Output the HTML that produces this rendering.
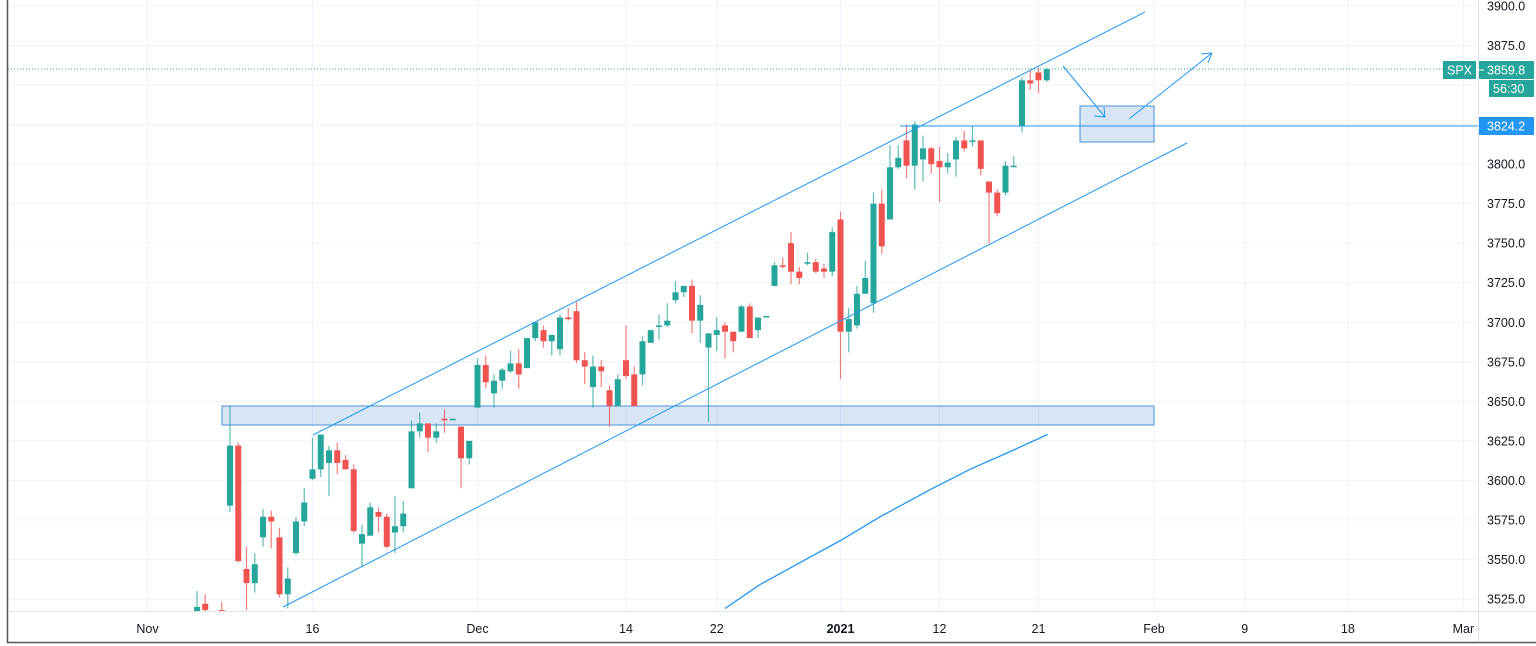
<!DOCTYPE html>
<html><head><meta charset="utf-8"><style>
html,body{margin:0;padding:0;background:#fff;}
svg{display:block;font-family:"Liberation Sans",sans-serif;}
</style></head><body>
<svg id="chart" width="1536" height="646" viewBox="0 0 1536 646" xmlns="http://www.w3.org/2000/svg">
<rect x="0" y="0" width="1536" height="646" fill="#ffffff"/>
<g id="grid"></g>
<g id="drawings-back"></g>
<g id="candles"></g>
<g id="drawings"></g>
<g id="axes"></g>
</svg>
<script>
const priceTicks=[3900,3875,3850,3825,3800,3775,3750,3725,3700,3675,3650,3625,3600,3575,3550,3525];
const hiddenTicks=[3850,3825];
const timeLabels=["Nov","16","Dec","14","22","2021","12","21","Feb","9","18","Mar"];
const timeIdx=[-6,14,34,52,63,78,90,102,116,127,139.5,153.5];
const opens=[3515,3522,3505,3518,3584,3622,3544,3535,3564,3577,3564,3528,3554,3574,3601,3607,3611,3619,3613,3607,3560,3565,3580,3577,3567,3571,3595,3631,3636,3627,3639,3638,3634,3614,
3646,3673,3655,3663,3669,3674,3671,3690,3695,3688,3683,3703,3707,3676,3659,3672,3657,3647,3676,3667,3667,3687,3697,3698,3714,3719,3723,3701,3684,3692,3698,3694,3694,3710,3695,3704,
3723,3736,3750,3732,3737,3738,3734,3732,3765,3694,3698,3718,3712,3775,3765,3798,3815,3799,3803,3810,3802,3798,3803,3815,3815,3815,3789,3782,3782,3799,3824,3853,3858,3853];
const highs=[3530,3528,3508,3523,3647,3624,3558,3554,3582,3581,3570,3545,3577,3595,3627,3629,3622,3624,3616,3610,3572,3586,3583,3579,3590,3587,3638,3643,3636,3636,3645,3639,3634,3625,
3677,3679,3667,3671,3682,3683,3690,3700,3698,3692,3705,3709,3713,3681,3679,3676,3660,3667,3698,3672,3691,3695,3705,3712,3726,3723,3727,3717,3693,3703,3700,3694,3711,3712,3703,3704,
3738,3741,3757,3735,3744,3740,3737,3760,3770,3709,3723,3739,3782,3784,3812,3812,3825,3827,3818,3811,3811,3807,3817,3821,3824,3815,3789,3784,3802,3805,3855,3860,3861,3861];
const lows=[3505,3505,3500,3505,3580,3548,3518,3529,3558,3557,3526,3519,3553,3571,3600,3602,3590,3604,3607,3567,3545,3565,3567,3557,3554,3567,3595,3627,3618,3624,3630,3638,3595,3610,
3646,3658,3646,3658,3668,3658,3671,3688,3684,3679,3679,3701,3674,3661,3646,3659,3634,3647,3664,3647,3660,3687,3689,3697,3712,3716,3693,3687,3637,3682,3677,3681,3694,3690,3690,3704,
3723,3734,3724,3724,3736,3731,3728,3729,3664,3681,3696,3718,3706,3743,3765,3797,3791,3784,3789,3794,3776,3794,3792,3808,3811,3793,3750,3767,3780,3798,3820,3847,3845,3852];
const closes=[3520,3518,3502,3514,3622,3549,3535,3547,3577,3574,3528,3538,3574,3586,3607,3629,3619,3611,3607,3568,3566,3583,3577,3558,3571,3579,3631,3636,3627,3631,3638,3639,3614,3625,
3673,3662,3663,3670,3674,3667,3690,3700,3688,3692,3703,3702,3676,3672,3672,3669,3647,3664,3666,3647,3688,3695,3698,3701,3719,3723,3701,3711,3693,3695,3694,3688,3710,3690,3703,3704,
3736,3735,3732,3728,3738,3732,3732,3757,3694,3702,3718,3728,3775,3748,3798,3804,3799,3825,3810,3800,3798,3801,3815,3810,3815,3797,3782,3769,3799,3799,3853,3851,3853,3860];
const maPrices=[3519,3534,3548,3562,3577,3594,3607,3618,3629];
const maIdx=[64,68.2,73.1,78,82.8,88.8,93.7,98.5,103.1];

const X0=197,STEP=8.25;
const xOf=i=>X0+i*STEP;
const yOf=p=>6+(3900-p)*1.5813;
const NS="http://www.w3.org/2000/svg";
function mk(tag,attrs,parent){const e=document.createElementNS(NS,tag);for(const k in attrs)e.setAttribute(k,attrs[k]);parent.appendChild(e);return e;}
const grid=document.getElementById('grid'),cg=document.getElementById('candles'),dg=document.getElementById('drawings'),db=document.getElementById('drawings-back'),ag=document.getElementById('axes');

priceTicks.forEach(p=>{const l=mk('line',{x1:8,x2:1478,y1:yOf(p),y2:yOf(p),stroke:'#f0f3fa','stroke-width':1},grid);

});
timeIdx.forEach(i=>{const l=mk('line',{x1:xOf(i),x2:xOf(i),y1:0,y2:611,stroke:'#f0f3fa','stroke-width':1},grid);

});

for(let i=0;i<opens.length;i++){
 const o=opens[i],h=highs[i],l=lows[i],c=closes[i];
 const up=c>=o,col=up?'#26a69a':'#ef5350',x=xOf(i);
 const g=mk('g',{},cg);
 
 
 if(yOf(h)<611) mk('line',{x1:x,x2:x,y1:yOf(h),y2:Math.min(yOf(l),611),stroke:col,'stroke-width':1.2,opacity:0.75},g);
 const top=yOf(Math.max(o,c)),bh=Math.max(1.5,Math.abs(yOf(o)-yOf(c)));
 if(top<611) mk('rect',{x:x-3,y:top,width:6,height:Math.min(bh,611-top),fill:col},g);
}

const blue='#2196f3';
function line(x1,y1,x2,y2,name,par){const l=mk('line',{x1,y1,x2,y2,stroke:blue,'stroke-width':1},par||dg);

return l;}
const r1=mk('rect',{x:222,y:406,width:932,height:19,fill:'rgba(33,110,200,0.18)',stroke:'#4a8fd6','stroke-width':1},db);


const r2=mk('rect',{x:1080,y:106,width:74,height:36,fill:'rgba(33,110,200,0.18)',stroke:'#4a8fd6','stroke-width':1},db);


const dl=mk('line',{x1:8,x2:1478,y1:69,y2:69,stroke:'#26a69a','stroke-width':1,'stroke-dasharray':'1,2'},dg);


line(900,126,1478,126,'resistance-line');
line(313,435,1145,12,'upper-channel-line');
line(283,607,1187,143,'lower-channel-line');
line(1063,66,1105,117,'arrow-down');
line(1105,117,1094,116,'arrow-down-head');line(1105,117,1104,107,'arrow-down-head');
line(1129,119,1212,53,'arrow-up');
line(1212,53,1201,54,'arrow-up-head');line(1212,53,1208,63,'arrow-up-head');
let d='';maIdx.forEach((i,k)=>{d+=(k?'L':'M')+xOf(i).toFixed(1)+' '+yOf(maPrices[k]).toFixed(1)+' ';});
const ma=mk('path',{d,fill:'none',stroke:blue,'stroke-width':1.3},dg);



mk('rect',{x:1478,y:0,width:58,height:646,fill:'#fff'},ag);
mk('line',{x1:7.5,x2:7.5,y1:0,y2:643,stroke:'#555','stroke-width':1.5},ag);
mk('line',{x1:7,x2:1536,y1:642.5,y2:642.5,stroke:'#555','stroke-width':1.5},ag);
mk('line',{x1:8,x2:1536,y1:611.5,y2:611.5,stroke:'#e0e3eb','stroke-width':1},ag);
mk('line',{x1:1478.5,x2:1478.5,y1:0,y2:642,stroke:'#e0e3eb','stroke-width':1},ag);
priceTicks.forEach(p=>{if(hiddenTicks.includes(p))return;
 const t=mk('text',{x:1487,y:yOf(p)+4.5,'font-size':12.5,fill:'#131722'},ag);t.textContent=p.toFixed(1);
 
 });
timeLabels.forEach((s,k)=>{const t=mk('text',{x:xOf(timeIdx[k]),y:633,'font-size':12.5,fill:'#131722','text-anchor':'middle','font-weight':s==='2021'?'bold':'normal'},ag);t.textContent=s;
 
 });
function badge(x,y,w,h,bg,txt,name,tx,anchor){const g=mk('g',{},ag);
 
 
 mk('rect',{x,y,width:w,height:h,fill:bg},g);
 const t=mk('text',{x:tx,y:y+h/2+4.5,'font-size':12.5,fill:'#fff','text-anchor':anchor||'start'},g);t.textContent=txt;}
badge(1443,61,33,18,'#26a69a','SPX','symbol-label',1459.5,'middle');
badge(1479,61,55,18,'#26a69a','3859.8','last-price-label',1487);
mk('line',{x1:1479,x2:1484,y1:70,y2:70,stroke:'#fff'},ag);
badge(1489,80,45,17,'#26a69a','56:30','countdown-label',1493);
badge(1479,117,55,18,'#2196f3','3824.2','resistance-price-label',1487);
</script>
</body></html>
